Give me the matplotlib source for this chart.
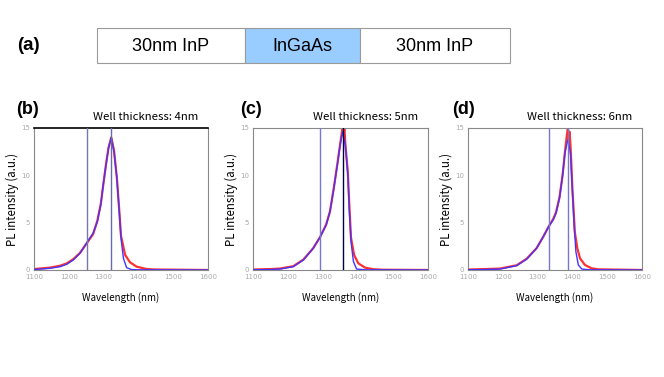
import matplotlib
matplotlib.use("Agg")
import matplotlib.pyplot as plt
from matplotlib.patches import Rectangle

W, H = 664, 377

# ---- data ----
layers = ["30nm InP", "InGaAs", "30nm InP"]
layer_colors = ["white", "#99ccff", "white"]

panel_labels = ["(b)", "(c)", "(d)"]
titles = ["Well thickness: 4nm", "Well thickness: 5nm", "Well thickness: 6nm"]

fit_x_b = [1100, 1146, 1175, 1194, 1213, 1232, 1253, 1270, 1282, 1292, 1299, 1307, 1314, 1322, 1330, 1338, 1345, 1350, 1357, 1366, 1380, 1400, 1600]
fit_y_b = [0.05, 0.18, 0.35, 0.6, 1.06, 1.76, 2.95, 3.9, 5.1, 6.9, 9.0, 11.1, 12.85, 14.0, 12.5, 9.7, 6.2, 3.35, 1.23, 0.25, 0.05, 0.02, 0.0]
dat_x_b = [1100, 1146, 1175, 1194, 1213, 1232, 1253, 1270, 1282, 1292, 1299, 1307, 1314, 1322, 1330, 1338, 1345, 1350, 1362, 1376, 1395, 1424, 1450, 1600]
dat_y_b = [0.1, 0.25, 0.45, 0.7, 1.15, 1.8, 2.9, 3.8, 5.2, 7.0, 9.0, 11.2, 12.9, 14.0, 12.6, 9.8, 6.3, 3.6, 1.58, 0.81, 0.35, 0.1, 0.05, 0.0]

fit_x_c = [1100, 1150, 1177, 1215, 1244, 1272, 1292, 1309, 1320, 1331, 1341, 1349, 1356, 1364, 1371, 1375, 1380, 1387, 1396, 1420, 1600]
fit_y_c = [0.02, 0.05, 0.1, 0.35, 1.06, 2.3, 3.5, 4.75, 6.16, 8.6, 11.1, 13.2, 14.6, 13.2, 10.0, 6.5, 3.0, 0.88, 0.1, 0.02, 0.0]
dat_x_c = [1100, 1150, 1177, 1215, 1244, 1272, 1292, 1309, 1320, 1331, 1341, 1349, 1353, 1356, 1359, 1361, 1364, 1371, 1375, 1380, 1389, 1401, 1420, 1444, 1470, 1600]
dat_y_c = [0.05, 0.1, 0.15, 0.4, 1.1, 2.3, 3.5, 4.8, 6.2, 8.7, 11.2, 13.3, 14.3, 15.2, 14.2, 15.2, 13.2, 10.3, 7.0, 3.4, 1.58, 0.7, 0.25, 0.08, 0.03, 0.0]

fit_x_d = [1100, 1150, 1192, 1240, 1269, 1297, 1316, 1332, 1345, 1353, 1363, 1372, 1379, 1388, 1395, 1400, 1405, 1410, 1417, 1427, 1450, 1600]
fit_y_d = [0.02, 0.05, 0.1, 0.46, 1.16, 2.3, 3.5, 4.6, 5.3, 6.0, 7.6, 10.0, 12.5, 13.9, 12.1, 8.3, 4.75, 1.94, 0.53, 0.1, 0.02, 0.0]
dat_x_d = [1100, 1150, 1192, 1240, 1269, 1297, 1316, 1332, 1345, 1353, 1363, 1372, 1379, 1384, 1387, 1389, 1392, 1395, 1400, 1407, 1414, 1422, 1436, 1455, 1475, 1600]
dat_y_d = [0.05, 0.1, 0.15, 0.5, 1.2, 2.3, 3.5, 4.6, 5.4, 6.1, 7.7, 10.1, 12.6, 14.2, 15.0, 14.0, 14.6, 12.8, 8.6, 4.0, 2.3, 1.23, 0.53, 0.18, 0.07, 0.0]

vlines = [[1253, 1322], [1292, 1358], [1332, 1388]]
vline_colors = [["#7777aa", "#6a6aa8"], ["#7777cc", "#000044"], ["#7777cc", "#7777cc"]]

fit_x = [fit_x_b, fit_x_c, fit_x_d]
fit_y = [fit_y_b, fit_y_c, fit_y_d]
dat_x = [dat_x_b, dat_x_c, dat_x_d]
dat_y = [dat_y_b, dat_y_c, dat_y_d]

xticks = [1100, 1200, 1300, 1400, 1500, 1600]
yticks = [0, 5, 10, 15]

jp = ["Noto Sans CJK JP", "DejaVu Sans"]

fig = plt.figure(figsize=(W / 100, H / 100), dpi=100)

def px(x0, y0, x1, y1):
    return [x0 / W, 1 - y1 / H, (x1 - x0) / W, (y1 - y0) / H]

# ---- panel (a) schematic ----
axa = fig.add_axes([0, 0, 1, 1])
axa.set_xlim(0, W)
axa.set_ylim(H, 0)
axa.axis("off")
bounds = [97, 245, 360, 510]
for i, name in enumerate(layers):
    axa.add_patch(Rectangle((bounds[i], 28), bounds[i + 1] - bounds[i], 35,
                            facecolor=layer_colors[i], edgecolor="#9a9a9a", lw=0.8))
    axa.text((bounds[i] + bounds[i + 1]) / 2, 46.5, name, ha="center", va="center",
             fontsize=13, family="Liberation Sans", color="black")
axa.text(17, 45, "(a)", ha="left", va="center", fontsize=13.5, fontweight="bold",
         family="Liberation Sans")

# ---- spectra panels ----
boxes = [(34, 128, 208, 270), (253, 128, 428, 270), (468, 128, 642, 270)]
label_x = [16, 240, 452]
for k in range(3):
    x0, y0, x1, y1 = boxes[k]
    ax = fig.add_axes(px(x0, y0, x1, y1))
    ax.set_xlim(1100, 1600)
    ax.set_ylim(0, 15)
    ax.plot(dat_x[k], dat_y[k], color="#ff1a1a", lw=1.6, alpha=0.9, zorder=2)
    ax.plot(fit_x[k], fit_y[k], color="#4433ff", lw=1.0, zorder=3)
    for v, c in zip(vlines[k], vline_colors[k]):
        ax.axvline(v, color=c, lw=1.0, zorder=4)
    ax.set_xticks(xticks)
    ax.set_yticks(yticks)
    ax.tick_params(labelsize=5, labelcolor="#aaaaaa", length=0, pad=3)
    for s in ax.spines.values():
        s.set_color("#888888")
        s.set_linewidth(0.8)
    if k == 0:
        ax.spines["top"].set_color("black")
        ax.spines["top"].set_linewidth(1.2)
    ax.set_xlabel("Wavelength (nm)", fontsize=7.0, family=jp)
    ax.set_ylabel("PL intensity (a.u.)", fontsize=8.3, family=jp)
    ax.xaxis.set_label_coords(0.5, -22 / (y1 - y0), transform=ax.transAxes)
    ax.yaxis.set_label_coords(-15 / (x1 - x0), 0.5, transform=ax.transAxes)
    fig.text((x1 - 10) / W, 1 - 117 / H, titles[k], ha="right", va="center",
             fontsize=8.2, family=jp)
    fig.text(label_x[k] / W, 1 - 110 / H, panel_labels[k], ha="left", va="center",
             fontsize=13, fontweight="bold", family="Liberation Sans")

fig.savefig("out.png", dpi=100)
